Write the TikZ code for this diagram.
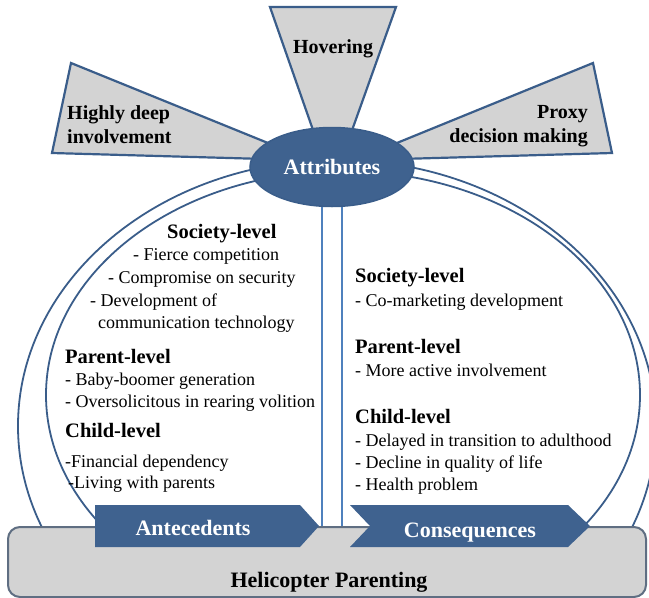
\documentclass[tikz,border=0pt]{standalone}
\usepackage{fontspec}
\setmainfont{Liberation Serif}
\usetikzlibrary{shapes.geometric}
\definecolor{navy}{RGB}{63,98,143}
\definecolor{edgeblue}{RGB}{58,93,138}
\definecolor{grayfill}{RGB}{211,211,211}
\definecolor{rectedge}{RGB}{95,110,130}
\definecolor{lightline}{RGB}{79,129,189}
\begin{document}
\begin{tikzpicture}[x=1pt,y=-1pt,
  wing/.style={draw=edgeblue,fill=grayfill,line width=2.2pt,line join=miter},
  arcline/.style={draw=edgeblue,line width=1.8pt},
  vline/.style={draw=lightline,line width=1.4pt},
  wingtxt/.style={font=\fontsize{20}{24}\selectfont\bfseries,inner sep=0pt},
  head/.style={font=\fontsize{20.5}{24}\selectfont\bfseries,anchor=base west,inner sep=0pt},
  body/.style={font=\fontsize{18}{22}\selectfont,anchor=base west,inner sep=0pt},
  whitetxt/.style={font=\fontsize{22}{26}\selectfont\bfseries,text=white,inner sep=0pt,anchor=base},
  arrowshape/.style={fill=navy,draw=none}
]
\useasboundingbox (0,0) rectangle (649,598);
% double arch
\begin{scope}
  \clip (0,0) rectangle (649,527);
  \draw[arcline] (337,426) ellipse[x radius=319pt, y radius=266pt];
  \draw[arcline] (343,395) ellipse[x radius=297pt, y radius=224pt];
\end{scope}
% central double line
\coordinate (v1t) at (322,200); \coordinate (v1b) at (322,527);
\coordinate (v2t) at (342,200); \coordinate (v2b) at (342,527);
\draw[vline] (v1t) -- (v1b);
\draw[vline] (v2t) -- (v2b);
% wings
\draw[wing] (71,63) -- (300,156) -- (300,160) -- (52,153) -- cycle;
\draw[wing] (593,63) -- (365,156) -- (365,160) -- (612,153) -- cycle;
\draw[wing] (270,7) -- (396,7) -- (345,150) -- (320,150) -- cycle;
% attributes
\node[ellipse,fill=navy,draw=edgeblue,line width=1.5pt,minimum width=164pt,minimum height=79pt,inner sep=0pt,
      font=\fontsize{22}{26}\selectfont\bfseries,text=white] (attr) at (332,167) {Attributes};
% wing texts
\node[wingtxt,anchor=base] (hov) at (333,53) {Hovering};
\node[wingtxt,anchor=base west] (hd1) at (67,119) {Highly deep};
\node[wingtxt,anchor=base west] (hd2) at (67,143) {involvement};
\node[wingtxt,anchor=base east] (px1) at (588,118) {Proxy};
\node[wingtxt,anchor=base east] (px2) at (588,142) {decision making};
% base rectangle
\draw[draw=rectedge,fill=grayfill,line width=2pt,rounded corners=12pt] (8,527) rectangle (646,597);
\node[font=\fontsize{22}{26}\selectfont\bfseries,anchor=base,inner sep=0pt] (heli) at (329,587) {Helicopter Parenting};
% arrows
\fill[arrowshape] (95,505) -- (300,505) -- (319,526) -- (300,547) -- (95,547) -- cycle;
\fill[arrowshape] (350,505) -- (568,505) -- (590,526) -- (568,547) -- (350,547) -- (370,526) -- cycle;
\node[whitetxt] (ante) at (193,535) {Antecedents};
\node[whitetxt] (cons) at (470,537) {Consequences};
% left column
\node[head] (ls) at (167,238) {Society-level};
\node[body] (ls1) at (133,260) {- Fierce competition};
\node[body] (ls2) at (108,283) {- Compromise on security};
\node[body] (ls3) at (90,306) {- Development of};
\node[body] (ls4) at (98,328) {communication technology};
\node[head] (lp) at (65,363) {Parent-level};
\node[body] (lp1) at (65,385) {- Baby-boomer generation};
\node[body] (lp2) at (65,407) {- Oversolicitous in rearing volition};
\node[head] (lc) at (65,437) {Child-level};
\node[body] (lc1) at (65,467) {-Financial dependency};
\node[body] (lc2) at (68,488) {-Living with parents};
% right column
\node[head] (rs) at (355,282) {Society-level};
\node[body] (rs1) at (355,306) {- Co-marketing development};
\node[head] (rp) at (355,353) {Parent-level};
\node[body] (rp1) at (355,376) {- More active involvement};
\node[head] (rc) at (355,423) {Child-level};
\node[body] (rc1) at (355,446) {- Delayed in transition to adulthood};
\node[body] (rc2) at (355,468) {- Decline in quality of life};
\node[body] (rc3) at (355,490) {- Health problem};
\end{tikzpicture}
\end{document}
